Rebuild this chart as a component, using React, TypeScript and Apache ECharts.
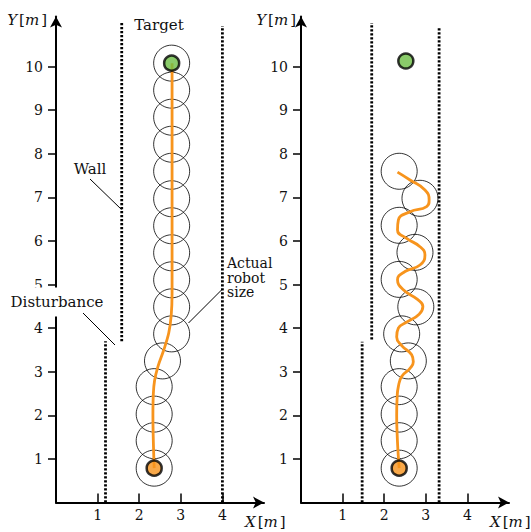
import React, { useEffect, useRef } from "react";
import * as echarts from "echarts";

const xTicks = [1, 2, 3, 4];
const yTicks = [1, 2, 3, 4, 5, 6, 7, 8, 9, 10];

// Left panel: circles (robot size) along path
const leftCircleX = [2.36, 2.36, 2.36, 2.36, 2.56, 2.78, 2.78, 2.78, 2.78, 2.78, 2.78, 2.78, 2.78, 2.78, 2.78, 2.78];
const leftCircleY = [0.79, 1.42, 2.03, 2.66, 3.25, 3.87, 4.49, 5.11, 5.73, 6.35, 6.97, 7.6, 8.22, 8.84, 9.46, 10.08];
const leftPathX = [2.36, 2.34, 2.33, 2.34, 2.37, 2.45, 2.59, 2.71, 2.77, 2.79, 2.79, 2.79, 2.79];
const leftPathY = [0.79, 1.4, 2.0, 2.5, 2.8, 3.12, 3.5, 3.89, 4.3, 4.8, 6.0, 8.0, 10.08];
const leftStart = [2.36, 0.79];
const leftTarget = [2.78, 10.08];
// walls: [x, yFrom, yTo]
const leftWalls = [
  [1.58, 3.7, 11.0],
  [1.19, 0, 3.7],
  [4.0, 0, 10.93],
];

// Right panel
const rightCircleX = [2.36, 2.36, 2.36, 2.36, 2.58, 2.42, 2.76, 2.36, 2.74, 2.36, 2.86, 2.36];
const rightCircleY = [0.79, 1.42, 2.03, 2.66, 3.25, 3.87, 4.49, 5.12, 5.74, 6.36, 6.98, 7.6];
const rightPathX = [2.36, 2.33, 2.31, 2.3, 2.31, 2.34, 2.42, 2.62, 2.7, 2.66, 2.42, 2.3, 2.34, 2.56, 2.84, 2.93, 2.8, 2.46, 2.32, 2.5, 2.86, 2.98, 2.86, 2.54, 2.32, 2.34, 2.62, 3.02, 3.08, 2.98, 2.62, 2.32];
const rightPathY = [0.79, 1.2, 1.6, 2.0, 2.4, 2.66, 2.89, 3.08, 3.23, 3.39, 3.6, 3.8, 4.0, 4.15, 4.32, 4.5, 4.66, 4.88, 5.11, 5.3, 5.45, 5.68, 5.87, 6.06, 6.25, 6.48, 6.67, 6.79, 6.94, 7.17, 7.4, 7.58];
const rightStart = [2.36, 0.79];
const rightTarget = [2.52, 10.13];
const rightWalls = [
  [1.7, 3.74, 11.0],
  [1.47, 0, 3.69],
  [3.32, 0, 10.9],
];

const FONT = '"DejaVu Serif", serif';
const ORANGE = "#F7941D";
const GREEN = "#6DBE45";

function zip(xs: number[], ys: number[]) {
  return xs.map((x, i) => [x, ys[i]]);
}

function panelSeries(
  idx: number,
  walls: number[][],
  cx: number[],
  cy: number[],
  px: number[],
  py: number[],
  start: number[],
  target: number[],
  smooth: number
) {
  const s: any[] = [];
  walls.forEach((w) => {
    s.push({
      type: "line",
      xAxisIndex: idx,
      yAxisIndex: idx,
      data: [
        [w[0], w[1]],
        [w[0], w[2]],
      ],
      symbol: "none",
      silent: true,
      z: 1,
      lineStyle: { color: "#000", width: 2.8, type: [2.3, 1.7], cap: "butt" },
    });
  });
  s.push({
    type: "scatter",
    xAxisIndex: idx,
    yAxisIndex: idx,
    data: zip(cx, cy),
    symbol: "circle",
    symbolSize: 36,
    silent: true,
    z: 2,
    itemStyle: { color: "rgba(0,0,0,0)", borderColor: "#000", borderWidth: 1 },
  });
  s.push({
    type: "line",
    xAxisIndex: idx,
    yAxisIndex: idx,
    data: zip(px, py),
    symbol: "none",
    smooth,
    silent: true,
    z: 3,
    lineStyle: { color: ORANGE, width: 2.8 },
  });
  s.push({
    type: "scatter",
    xAxisIndex: idx,
    yAxisIndex: idx,
    data: [start],
    symbol: "circle",
    symbolSize: 15,
    silent: true,
    z: 4,
    itemStyle: { color: ORANGE, borderColor: "#000", borderWidth: 2.5 },
  });
  s.push({
    type: "scatter",
    xAxisIndex: idx,
    yAxisIndex: idx,
    data: [target],
    symbol: "circle",
    symbolSize: 15,
    silent: true,
    z: 4,
    itemStyle: { color: GREEN, borderColor: "#000", borderWidth: 2.5 },
  });
  return s;
}

function xAxisCfg(i: number) {
  return {
    type: "value",
    gridIndex: i,
    min: 0,
    max: 5,
    interval: 1,
    splitLine: { show: false },
    axisLine: {
      show: true,
      onZero: false,
      symbol: ["none", "arrow"],
      symbolSize: [9, 11],
      lineStyle: { color: "#000", width: 2 },
    },
    axisTick: { show: true, inside: true, length: 9, customValues: xTicks, lineStyle: { color: "#000", width: 1.5 } },
    axisLabel: { customValues: xTicks, margin: 5, fontFamily: FONT, fontSize: 14, color: "#111" },
  };
}

function yAxisCfg(i: number) {
  return {
    type: "value",
    gridIndex: i,
    min: 0,
    max: 11.15,
    interval: 1,
    splitLine: { show: false },
    axisLine: {
      show: true,
      onZero: false,
      symbol: ["none", "arrow"],
      symbolSize: [9, 11],
      lineStyle: { color: "#000", width: 2 },
    },
    axisTick: { show: true, inside: false, length: 8, customValues: yTicks, lineStyle: { color: "#000", width: 1.5 } },
    axisLabel: { customValues: yTicks, margin: 13, fontFamily: FONT, fontSize: 14, color: "#111" },
  };
}

function axisName(x: number, y: number, letter: string, align: string) {
  return {
    type: "text",
    x,
    y,
    z: 100,
    silent: true,
    style: {
      text: `{i|${letter}}{n|[}{i|m}{n|]}`,
      align,
      verticalAlign: "middle",
      rich: {
        i: { fontFamily: FONT, fontStyle: "italic", fontSize: 15, fill: "#111", padding: [0, 2, 0, 0] },
        n: { fontFamily: FONT, fontSize: 15, fill: "#111" },
      },
    },
  };
}

function label(x: number, y: number, text: string, align: string, extra: any = {}) {
  return {
    type: "text",
    x,
    y,
    z: 100,
    silent: true,
    style: {
      text,
      align,
      verticalAlign: "middle",
      fontFamily: FONT,
      fontSize: 15,
      fill: "#111",
      ...extra,
    },
  };
}

function leader(x1: number, y1: number, x2: number, y2: number) {
  return {
    type: "line",
    z: 100,
    silent: true,
    shape: { x1, y1, x2, y2 },
    style: { stroke: "#000", lineWidth: 1 },
  };
}

export default function App() {
  const ref = useRef<HTMLDivElement>(null);
  useEffect(() => {
    const chart = echarts.init(ref.current!, null, { renderer: "svg" });
    const option: any = {
      animation: false,
      backgroundColor: "#fff",
      grid: [
        { left: 56, top: 16.5, width: 208, height: 486.1, containLabel: false },
        { left: 301, top: 16.5, width: 208, height: 486.1, containLabel: false },
      ],
      xAxis: [xAxisCfg(0), xAxisCfg(1)],
      yAxis: [yAxisCfg(0), yAxisCfg(1)],
      series: [
        ...panelSeries(0, leftWalls, leftCircleX, leftCircleY, leftPathX, leftPathY, leftStart, leftTarget, 0.35),
        ...panelSeries(1, rightWalls, rightCircleX, rightCircleY, rightPathX, rightPathY, rightStart, rightTarget, 0.5),
      ],
      graphic: [
        axisName(47, 20, "Y", "right"),
        axisName(245, 522, "X", "left"),
        axisName(296, 20, "Y", "right"),
        axisName(490, 522, "X", "left"),
        label(159, 25, "Target", "center"),
        label(90, 169, "Wall", "center"),
        leader(90, 179, 121.5, 209.5),
        label(57, 302, "Disturbance", "center", { backgroundColor: "#fff", padding: [7, 2, 7, 2] }),
        leader(83, 313, 115, 345),
        {
          type: "text",
          x: 225,
          y: 256,
          z: 100,
          silent: true,
          style: {
            text: "Actual\nrobot\nsize",
            align: "left",
            verticalAlign: "top",
            fontFamily: FONT,
            fontSize: 14,
            lineHeight: 14.5,
            fill: "#111",
            backgroundColor: "#fff",
            padding: [0, 2, 0, 2],
          },
        },
        leader(222.5, 289, 188.5, 323),
      ],
    };
    chart.setOption(option);
    return () => chart.dispose();
  }, []);
  return (
    <div
      ref={ref}
      style={{ position: "fixed", left: 0, top: 0, width: 531, height: 532, background: "#fff" }}
    />
  );
}
